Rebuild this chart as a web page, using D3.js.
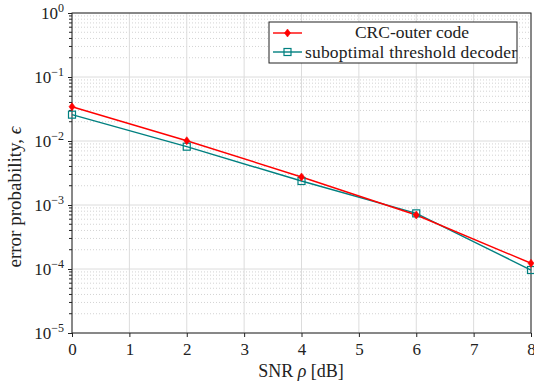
<!DOCTYPE html>
<html>
<head>
<meta charset="utf-8">
<script src="https://cdn.jsdelivr.net/npm/d3@7"></script>
<style>
  body { margin: 0; background: #fff; }
  text { font-family: "Liberation Serif", "DejaVu Serif", serif; fill: #222; }
</style>
</head>
<body>
<svg id="chart" width="534" height="382"></svg>
<script>
const snr = [0, 2, 4, 6, 8];
const crcOuter = [0.0343, 0.0101, 0.00274, 0.000698, 0.000123];
const threshold = [0.0258, 0.00815, 0.00237, 0.00074, 0.0000964];
const xTicks = [0, 1, 2, 3, 4, 5, 6, 7, 8];
const yDecades = [-5, -4, -3, -2, -1, 0];
const seriesNames = ['CRC-outer code', 'suboptimal threshold decoder'];

const margin = { top: 13, left: 72, bottom: 49, right: 3 };
const width = 534, height = 382;
const chartWidth = width - margin.left - margin.right;
const chartHeight = height - margin.top - margin.bottom;

const svg = d3.select('#chart');
const g = svg.append('g').attr('transform', `translate(${[margin.left, margin.top]})`);

const x = d3.scaleLinear().domain([0, 8]).range([0, chartWidth]);
const y = d3.scaleLog().domain([1e-5, 1]).range([chartHeight, 0]);

// minor grid (dotted)
const minors = [];
yDecades.slice(0, -1).forEach(d => {
    for (let k = 2; k <= 9; k++) minors.push(k * Math.pow(10, d));
});
g.append('g').selectAll('line').data(minors).enter().append('line')
    .attr('x1', 0).attr('x2', chartWidth)
    .attr('y1', d => y(d)).attr('y2', d => y(d))
    .attr('stroke', '#c8c8c8').attr('stroke-width', 0.8)
    .attr('stroke-dasharray', '1,2');

// major grid
g.append('g').selectAll('line').data(yDecades).enter().append('line')
    .attr('x1', 0).attr('x2', chartWidth)
    .attr('y1', d => y(Math.pow(10, d))).attr('y2', d => y(Math.pow(10, d)))
    .attr('stroke', '#dcdcdc').attr('stroke-width', 1);
g.append('g').selectAll('line').data(xTicks).enter().append('line')
    .attr('y1', 0).attr('y2', chartHeight)
    .attr('x1', d => x(d)).attr('x2', d => x(d))
    .attr('stroke', '#dcdcdc').attr('stroke-width', 1);

// frame
g.append('rect').attr('width', chartWidth).attr('height', chartHeight)
    .attr('fill', 'none').attr('stroke', '#222').attr('stroke-width', 1);

// x axis
const xAxis = g.append('g').attr('transform', `translate(0,${chartHeight})`)
    .call(d3.axisBottom(x).tickValues(xTicks).tickFormat(d3.format('d')).tickSizeInner(4).tickSizeOuter(0));
xAxis.select('.domain').remove();
xAxis.selectAll('text').attr('font-size', 17).attr('dy', '0.9em');
xAxis.selectAll('line').attr('stroke', '#222');

// y axis minor ticks
g.append('g').selectAll('line').data(minors).enter().append('line')
    .attr('x1', -3).attr('x2', 0)
    .attr('y1', d => y(d)).attr('y2', d => y(d))
    .attr('stroke', '#222').attr('stroke-width', 1);
const yAxis = g.append('g')
    .call(d3.axisLeft(y).tickValues(yDecades.map(d => Math.pow(10, d))).tickFormat('').tickSizeInner(4).tickSizeOuter(0));
yAxis.select('.domain').remove();
yAxis.selectAll('line').attr('stroke', '#222');

// y tick labels 10^n
const yLab = g.append('g').selectAll('text').data(yDecades).enter().append('text')
    .attr('x', -8).attr('y', d => y(Math.pow(10, d)) + 6)
    .attr('text-anchor', 'end').attr('font-size', 17);
yLab.append('tspan').text('10');
yLab.append('tspan').attr('dy', -7).attr('font-size', 12).text(d => d === 0 ? '0' : '\u2212' + (-d));

// axis labels
svg.append('text')
    .attr('x', 301).attr('y', 377)
    .attr('text-anchor', 'middle').attr('font-size', 18)
    .html('SNR <tspan font-style="italic">ρ</tspan> [dB]');
svg.append('text')
    .attr('transform', 'translate(21,197) rotate(-90)')
    .attr('text-anchor', 'middle').attr('font-size', 19)
    .html('error probability, <tspan font-style="italic">ϵ</tspan>');

// series
const line = d3.line().x((d, i) => x(snr[i])).y(d => y(d));
const red = '#ff0000', teal = '#008080';

function diamond(sel, cx, cy) {
    sel.append('path')
        .attr('d', `M${cx},${cy - 4}L${cx + 3},${cy}L${cx},${cy + 4}L${cx - 3},${cy}Z`)
        .attr('fill', red).attr('stroke', red).attr('stroke-width', 0.6);
}
function square(sel, cx, cy) {
    sel.append('rect').attr('x', cx - 3.5).attr('y', cy - 3.5).attr('width', 7).attr('height', 7)
        .attr('fill', 'none').attr('stroke', teal).attr('stroke-width', 1.2);
}

g.append('path').datum(threshold).attr('d', line)
    .attr('fill', 'none').attr('stroke', teal).attr('stroke-width', 1.4);
g.append('path').datum(crcOuter).attr('d', line)
    .attr('fill', 'none').attr('stroke', red).attr('stroke-width', 1.4);
const marks = g.append('g');
threshold.forEach((d, i) => square(marks, x(snr[i]), y(d)));
crcOuter.forEach((d, i) => diamond(marks, x(snr[i]), y(d)));

// legend
const lg = svg.append('g').attr('transform', 'translate(269,22)');
lg.append('rect').attr('width', 248).attr('height', 41)
    .attr('fill', '#fff').attr('stroke', '#222').attr('stroke-width', 1);
[[red, diamond], [teal, square]].forEach(([c, mk], i) => {
    const ly = 11 + i * 19;
    lg.append('line').attr('x1', 4).attr('x2', 33).attr('y1', ly).attr('y2', ly)
        .attr('stroke', c).attr('stroke-width', 1.4);
    mk(lg, 18.5, ly);
});
lg.append('text').attr('x', 143).attr('y', 16).attr('text-anchor', 'middle')
    .attr('font-size', 17.5).text(seriesNames[0]);
lg.append('text').attr('x', 36).attr('y', 35.5)
    .attr('font-size', 17.5).attr('textLength', 212).text(seriesNames[1]);
</script>
</body>
</html>
